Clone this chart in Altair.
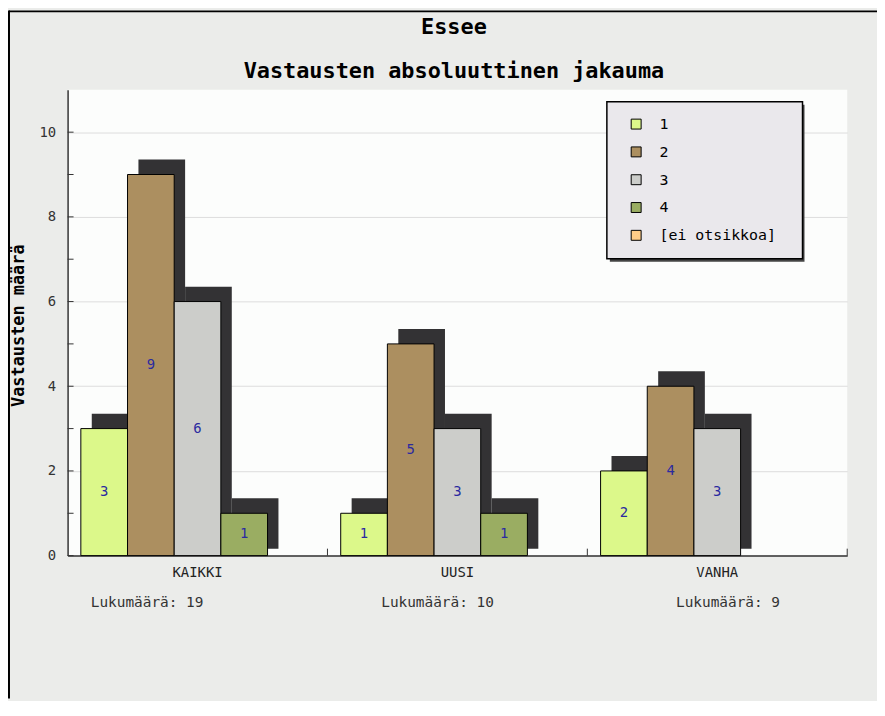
import altair as alt
import pandas as pd

# ---- data ----
groups = ["KAIKKI", "UUSI", "VANHA"]
series = ["1", "2", "3", "4", "[ei otsikkoa]"]
kaikki = [3, 9, 6, 1, 0]
uusi = [1, 5, 3, 1, 0]
vanha = [2, 4, 3, 0, 0]
counts = [19, 10, 9]
colors = ["#DCF88A", "#AC8F60", "#CCCDCA", "#9AAD62", "#FFCC88"]
y_labels = [0, 2, 4, 6, 8, 10]
y_ticks = list(range(0, 11))
title_text = "Essee"
subtitle_text = "Vastausten absoluuttinen jakauma"

rows = []
for g, vals in zip(groups, [kaikki, uusi, vanha]):
    for s, v in zip(series, vals):
        if v > 0:
            rows.append({"group": g, "series": s, "value": v})
df = pd.DataFrame(rows)
count_df = pd.DataFrame({"group": groups, "label": [f"Lukumäärä: {c}" for c in counts]})
tick_df = pd.DataFrame({"v": y_ticks})
grp_df = pd.DataFrame({"group": groups})
one_df = pd.DataFrame({"a": [0]})

W, H = 785, 469
PAD_L, PAD_T, PAD_R, PAD_B = 60, 80, 30, 144
MONO = "DejaVu Sans Mono"


def xband(axis=None, **kw):
    return alt.X("group:N", scale=alt.Scale(domain=groups, paddingInner=0, paddingOuter=0),
                 axis=axis, **kw)


y_scale = alt.Scale(domain=[0, 11], nice=False, zero=True)
off_main = alt.Scale(type="band", domain=series, paddingInner=0, paddingOuter=0.284)
off_shadow = alt.Scale(type="band", domain=series, paddingInner=0, paddingOuter=0.284, align=0.912)

y_axis = alt.Axis(values=y_labels, title="Vastausten määrä", ticks=False,
                  labelPadding=12, labelFont=MONO, labelFontSize=14,
                  labelColor="#333333", domainColor="#333333", domainWidth=1.5,
                  grid=True, gridColor="#DDDDDD", gridWidth=1,
                  titleFont=MONO, titleFontSize=17, titleFontWeight="bold",
                  titleColor="black", titleX=-49, titleY=237, titleAngle=270,
                  titleAlign="center", titleBaseline="middle")

border_top = alt.Chart(one_df).mark_rule(color="black", strokeWidth=2).encode(
    x=alt.value(-PAD_L + 1), x2=alt.value(W + PAD_R), y=alt.value(-PAD_T + 1)
)
border_left = alt.Chart(one_df).mark_rule(color="black", strokeWidth=2).encode(
    x=alt.value(-PAD_L + 1), y=alt.value(-PAD_T), y2=alt.value(H + PAD_B)
)

title_layer = alt.Chart(one_df).mark_text(
    font=MONO, fontSize=22, fontWeight="bold", color="black"
).encode(x=alt.value(389), y=alt.value(-63), text=alt.value(title_text))
subtitle_layer = alt.Chart(one_df).mark_text(
    font=MONO, fontSize=22, fontWeight="bold", color="black"
).encode(x=alt.value(389), y=alt.value(-19), text=alt.value(subtitle_text))

legend_shadow = alt.Chart(one_df).mark_rect(color="#444444").encode(
    x=alt.value(546), x2=alt.value(742), y=alt.value(15), y2=alt.value(173)
)

shadow = alt.Chart(df).mark_bar(color="#333234", yOffset=-15, y2Offset=-7).encode(
    x=xband(),
    xOffset=alt.XOffset("series:N", scale=off_shadow),
    y=alt.Y("value:Q", scale=y_scale, axis=y_axis),
    y2=alt.datum(0),
)

bars = alt.Chart(df).mark_bar(stroke="black", strokeWidth=1).encode(
    x=xband(axis=alt.Axis(title=None, labelAngle=0, ticks=False, labelPadding=10,
                          labelFont=MONO, labelFontSize=14, labelColor="#222222",
                          domainColor="#333333", domainWidth=1.5, grid=False)),
    xOffset=alt.XOffset("series:N", scale=off_main),
    y=alt.Y("value:Q", scale=y_scale, axis=y_axis),
    color=alt.Color("series:N", scale=alt.Scale(domain=series, range=colors),
                    legend=alt.Legend(title="..", titleOrient="right", titleOpacity=0,
                                      titleFontSize=10, titlePadding=6,
                                      orient="none", legendX=543, legendY=12,
                                      padding=15, fillColor="#EAE8EC", strokeColor="black",
                                      symbolType="square", symbolSize=100,
                                      symbolStrokeColor="black", symbolStrokeWidth=1,
                                      symbolOffset=7, labelOffset=16, labelFont=MONO,
                                      labelFontSize=15, labelColor="black", rowPadding=12)),
)

labels = alt.Chart(df).transform_calculate(mid="datum.value / 2").mark_text(
    font=MONO, fontSize=14, color="#2A2AA0"
).encode(
    x=xband(),
    xOffset=alt.XOffset("series:N", scale=off_main),
    y=alt.Y("mid:Q", scale=y_scale, axis=y_axis),
    text="value:Q",
)

count_layer = alt.Chart(count_df).mark_text(font=MONO, fontSize=14.5, color="#333333").encode(
    x=alt.X("group:N", scale=alt.Scale(type="point", domain=groups, padding=0.342, align=0.4),
            axis=None),
    y=alt.value(517),
    text="label:N",
)

band_ticks = alt.Chart(grp_df).mark_rule(color="#333333", strokeWidth=1).encode(
    x=xband(bandPosition=1),
    y=alt.value(H - 7),
    y2=alt.value(H),
)

y_tick_rules = alt.Chart(tick_df).mark_rule(color="#333333", strokeWidth=1).encode(
    y=alt.Y("v:Q", scale=y_scale, axis=y_axis),
    x=alt.value(0),
    x2=alt.value(6),
)

chart = alt.layer(
    border_top, border_left, title_layer, subtitle_layer, legend_shadow,
    shadow, bars, labels, count_layer, band_ticks, y_tick_rules
).resolve_scale(
    x="independent", xOffset="independent"
).properties(
    width=W,
    height=H,
    autosize="none",
    padding={"left": PAD_L, "top": PAD_T, "right": PAD_R, "bottom": PAD_B},
    background="#EBECEA",
).configure_view(
    fill="#FCFDFC", stroke=None
).configure_legend(
    strokeWidth=1.5
)

chart.save("out.html", embed_options={"renderer": "svg", "actions": False})
